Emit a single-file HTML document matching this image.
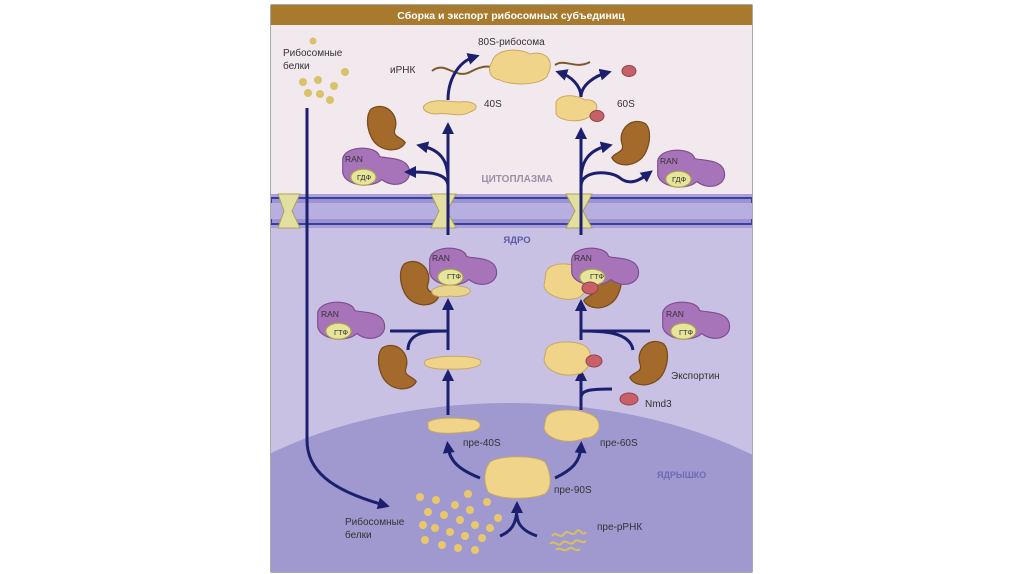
<!DOCTYPE html>
<html><head><meta charset="utf-8"><style>
html,body{margin:0;padding:0;background:#fff;width:1024px;height:574px;overflow:hidden}
svg{display:block;overflow:hidden}
text{font-family:"Liberation Sans","Noto Sans CJK SC",sans-serif}
</style></head><body>
<svg width="1024" height="574" viewBox="0 0 1024 574">
<defs>
<marker id="ah" viewBox="0 0 10 10" refX="5" refY="5" markerWidth="4" markerHeight="4" orient="auto-start-reverse"><path d="M0,0 L10,5 L0,10 z" fill="#1b1f6e"/></marker>
<clipPath id="fr"><rect x="271" y="25" width="481" height="547"/></clipPath>
<g id="exp0"><path d="M-12,-14 C-2,-20 10,-10 6,2 C4,8 12,8 14,12 C10,20 -6,20 -12,8 C-16,0 -16,-10 -12,-14z" fill="#a46a2c" stroke="#7a4c1c" stroke-width="1"/></g>
<g id="exp"><use href="#exp0" transform="scale(1.3)"/></g>
<g id="rang0"><path d="M-22,-8 C-20,-20 8,-20 10,-10 C16,-8 34,-10 36,2 C38,14 22,18 12,10 C4,18 -20,16 -22,4z" fill="#a874b9" stroke="#7d4d8e" stroke-width="1"/><ellipse cx="-4" cy="8" rx="11" ry="7" fill="#e6e59a" stroke="#a8a050"/></g>
<g id="rang"><use href="#rang0" transform="scale(1.15)"/></g>
</defs>
<rect x="271" y="5" width="481" height="567" fill="#fff" stroke="#555" stroke-width="1"/>
<g clip-path="url(#fr)">
<rect x="271" y="25" width="481" height="175" fill="#f2e9ee"/>
<rect x="271" y="195" width="481" height="377" fill="#c8c1e3"/>
<ellipse cx="510" cy="615" rx="370" ry="212" fill="#9f99cf"/>
<rect x="271" y="194" width="481" height="34" fill="#a8a0d6"/>
<rect x="271" y="198" width="481" height="26" fill="#9b93d2" stroke="#3b3fa0" stroke-width="2"/>
<rect x="271" y="203" width="481" height="16" fill="#b6afe0"/>
</g>
<rect x="271" y="5" width="481" height="20" fill="#a87a2e"/>
<text x="511" y="19" font-size="10.5" font-weight="bold" fill="#fff" text-anchor="middle">Сборка и экспорт рибосомных субъединиц</text>
<g fill="#e3dfa0" stroke="#a9a356" stroke-width="1">
<path d="M278,194 L300,194 L292,211 L300,228 L278,228 L284,211z"/>
<path d="M431,194 L456,194 L447,211 L456,228 L431,228 L439,211z"/>
<path d="M566,194 L592,194 L583,211 L592,228 L566,228 L575,211z"/>
</g>
<text x="283" y="56" font-size="10" fill="#333">Рибосомные</text>
<text x="283" y="69" font-size="10" fill="#333">белки</text>
<g fill="#d8c26a"><circle cx="313" cy="41" r="3.5"/><circle cx="345" cy="72" r="4"/><circle cx="303" cy="82" r="4"/><circle cx="318" cy="80" r="4"/><circle cx="320" cy="94" r="4"/><circle cx="308" cy="93" r="4"/><circle cx="334" cy="86" r="4"/><circle cx="330" cy="100" r="4"/></g>
<text x="478" y="45" font-size="10" fill="#333">80S-рибосома</text>
<text x="390" y="73" font-size="10" fill="#333">иРНК</text>
<path d="M432,71 C445,60 455,80 470,72 S490,66 500,70 M555,65 C565,58 575,70 590,62" stroke="#7a5a2a" stroke-width="2" fill="none"/>
<path d="M492,62 C495,48 520,48 530,54 C545,50 555,60 548,74 C545,86 510,86 500,80 C488,78 488,68 492,62z" fill="#f0d48a" stroke="#c8a860"/>
<path d="M426,104 C435,98 450,102 460,102 C475,100 482,108 470,112 C460,118 450,112 435,114 C425,113 420,108 426,104z" fill="#f0d48a" stroke="#c8a860"/>
<text x="484" y="107" font-size="10" fill="#333">40S</text>
<path d="M556,102 C560,94 575,94 585,100 C595,98 602,108 592,114 C585,124 560,122 556,114z" fill="#f0d48a" stroke="#c8a860"/>
<ellipse cx="597" cy="116" rx="7" ry="5.5" fill="#c8606a" stroke="#95404a"/>
<ellipse cx="629" cy="71" rx="7" ry="5.5" fill="#c8606a" stroke="#95404a"/>
<text x="617" y="107" font-size="10" fill="#333">60S</text>
<use href="#exp" x="387" y="127"/>
<use href="#exp" transform="translate(630,142) scale(-1,1)"/>
<use href="#rang" x="368" y="168"/>
<use href="#rang" x="683" y="170"/>
<text x="345" y="162" font-size="8.5" fill="#333">RAN</text><text x="357" y="180" font-size="7.5" fill="#333">ГДФ</text>
<text x="660" y="164" font-size="8.5" fill="#333">RAN</text><text x="672" y="182" font-size="7.5" fill="#333">ГДФ</text>
<text x="517" y="182" font-size="10" font-weight="bold" fill="#9a90a8" text-anchor="middle">ЦИТОПЛАЗМА</text>
<text x="517" y="243" font-size="9.5" font-weight="bold" fill="#5a5aa8" text-anchor="middle">ЯДРО</text>
<g stroke="#1b1f6e" stroke-width="3" fill="none">
<path d="M307,108 L307,440 C307,470 330,490 384,505" marker-end="url(#ah)"/>
<path d="M448,100 C448,80 458,62 474,57" marker-end="url(#ah)"/>
<path d="M581,97 C581,85 570,76 561,73" marker-end="url(#ah)"/>
<path d="M581,97 C581,85 595,76 606,73" marker-end="url(#ah)"/>
<path d="M448,235 L448,128" marker-end="url(#ah)"/>
<path d="M448,180 C448,160 440,150 422,146" marker-end="url(#ah)"/>
<path d="M448,186 C448,172 425,172 410,172" marker-end="url(#ah)"/>
<path d="M581,235 L581,133" marker-end="url(#ah)"/>
<path d="M581,180 C581,160 590,150 607,146" marker-end="url(#ah)"/>
<path d="M581,186 C581,170 610,170 620,178 C630,186 640,180 648,174" marker-end="url(#ah)"/>
<path d="M448,350 L448,304" marker-end="url(#ah)"/>
<path d="M390,331 L448,331 M448,331 C430,331 408,331 408,350"/>
<path d="M448,415 L448,375" marker-end="url(#ah)"/>
<path d="M581,340 L581,305" marker-end="url(#ah)"/>
<path d="M581,331 L650,331 M581,331 C600,331 630,331 633,350"/>
<path d="M581,410 L581,375" marker-end="url(#ah)"/>
<path d="M581,398 C581,390 590,389 612,389"/>
<path d="M480,478 C460,470 450,462 448,447" marker-end="url(#ah)"/>
<path d="M555,478 C572,470 580,462 581,447" marker-end="url(#ah)"/>
<path d="M500,536 C510,532 517,525 517,507" marker-end="url(#ah)"/>
<path d="M537,536 C525,532 517,525 517,515"/>
</g>
<use href="#exp" x="420" y="282"/>
<use href="#rang" x="455" y="268"/>
<path d="M432,290 C440,284 455,284 468,288 C475,292 465,298 450,296 C440,298 430,296 432,290z" fill="#e8d48a" stroke="#c8a860"/>
<text x="432" y="261" font-size="8.5" fill="#333">RAN</text><text x="447" y="279" font-size="7.5" fill="#333">ГТФ</text>
<path d="M546,272 C550,262 570,262 580,268 C590,274 590,292 578,298 C565,302 546,296 544,286z" fill="#f0d48a" stroke="#c8a860"/>
<use href="#exp" transform="translate(602,285) scale(-1,1)"/>
<use href="#rang" x="597" y="268"/>
<ellipse cx="590" cy="288" rx="8" ry="6" fill="#c8606a" stroke="#95404a"/>
<text x="574" y="261" font-size="8.5" fill="#333">RAN</text><text x="590" y="279" font-size="7.5" fill="#333">ГТФ</text>
<use href="#rang" x="343" y="322"/>
<text x="321" y="317" font-size="8.5" fill="#333">RAN</text><text x="334" y="335" font-size="7.5" fill="#333">ГТФ</text>
<use href="#rang" x="688" y="322"/>
<text x="666" y="317" font-size="8.5" fill="#333">RAN</text><text x="679" y="335" font-size="7.5" fill="#333">ГТФ</text>
<use href="#exp" x="398" y="366"/>
<use href="#exp" transform="translate(648,362) scale(-1,1)"/>
<path d="M426,360 C440,355 470,355 480,360 C485,366 470,370 450,369 C432,370 420,366 426,360z" fill="#f0d48a" stroke="#c8a860"/>
<path d="M546,350 C550,340 575,340 585,346 C595,352 590,372 578,374 C560,378 546,370 544,360z" fill="#f0d48a" stroke="#c8a860"/>
<ellipse cx="594" cy="361" rx="8" ry="6" fill="#c8606a" stroke="#95404a"/>
<text x="671" y="379" font-size="10" fill="#333">Экспортин</text>
<ellipse cx="629" cy="399" rx="9" ry="6" fill="#c8606a" stroke="#95404a"/>
<text x="645" y="407" font-size="10" fill="#333">Nmd3</text>
<path d="M428,422 C440,416 460,418 475,420 C485,424 480,432 465,432 C450,434 430,434 428,428z" fill="#f0d48a" stroke="#c8a860"/>
<path d="M546,418 C550,408 575,408 590,414 C605,420 600,438 585,438 C565,446 546,438 544,428z" fill="#f0d48a" stroke="#c8a860"/>
<text x="463" y="446" font-size="10" fill="#333">пре-40S</text>
<text x="600" y="446" font-size="10" fill="#333">пре-60S</text>
<path d="M490,462 C500,455 535,455 545,462 C552,475 552,488 545,494 C530,500 500,500 488,492 C483,480 484,470 490,462z" fill="#f0d48a" stroke="#c8a860"/>
<text x="554" y="493" font-size="10" fill="#333">пре-90S</text>
<text x="657" y="478" font-size="9" font-weight="bold" fill="#6c6cb4">ЯДРЫШКО</text>
<text x="345" y="525" font-size="10" fill="#333">Рибосомные</text>
<text x="345" y="538" font-size="10" fill="#333">белки</text>
<g fill="#e8c86a">
<circle cx="420" cy="497" r="4"/><circle cx="436" cy="500" r="4"/><circle cx="428" cy="512" r="4"/><circle cx="444" cy="515" r="4"/><circle cx="455" cy="505" r="4"/><circle cx="470" cy="510" r="4"/><circle cx="460" cy="520" r="4"/><circle cx="475" cy="525" r="4"/><circle cx="435" cy="528" r="4"/><circle cx="450" cy="532" r="4"/><circle cx="465" cy="536" r="4"/><circle cx="482" cy="538" r="4"/><circle cx="425" cy="540" r="4"/><circle cx="442" cy="545" r="4"/><circle cx="458" cy="548" r="4"/><circle cx="475" cy="550" r="4"/><circle cx="490" cy="528" r="4"/><circle cx="498" cy="518" r="4"/><circle cx="487" cy="502" r="4"/><circle cx="423" cy="525" r="4"/><circle cx="468" cy="494" r="4"/>
</g>
<text x="597" y="530" font-size="10" fill="#333">пре-рРНК</text>
<path d="M552,536 c4,-6 8,4 12,-2 s8,4 12,-2 s6,6 10,0 M550,544 c4,-5 8,4 12,-1 s8,4 12,-1 s8,3 12,-1 M556,550 c4,-4 8,3 12,-1 s8,4 12,0" stroke="#d8c060" stroke-width="2" fill="none"/>
</svg>
</body></html>
